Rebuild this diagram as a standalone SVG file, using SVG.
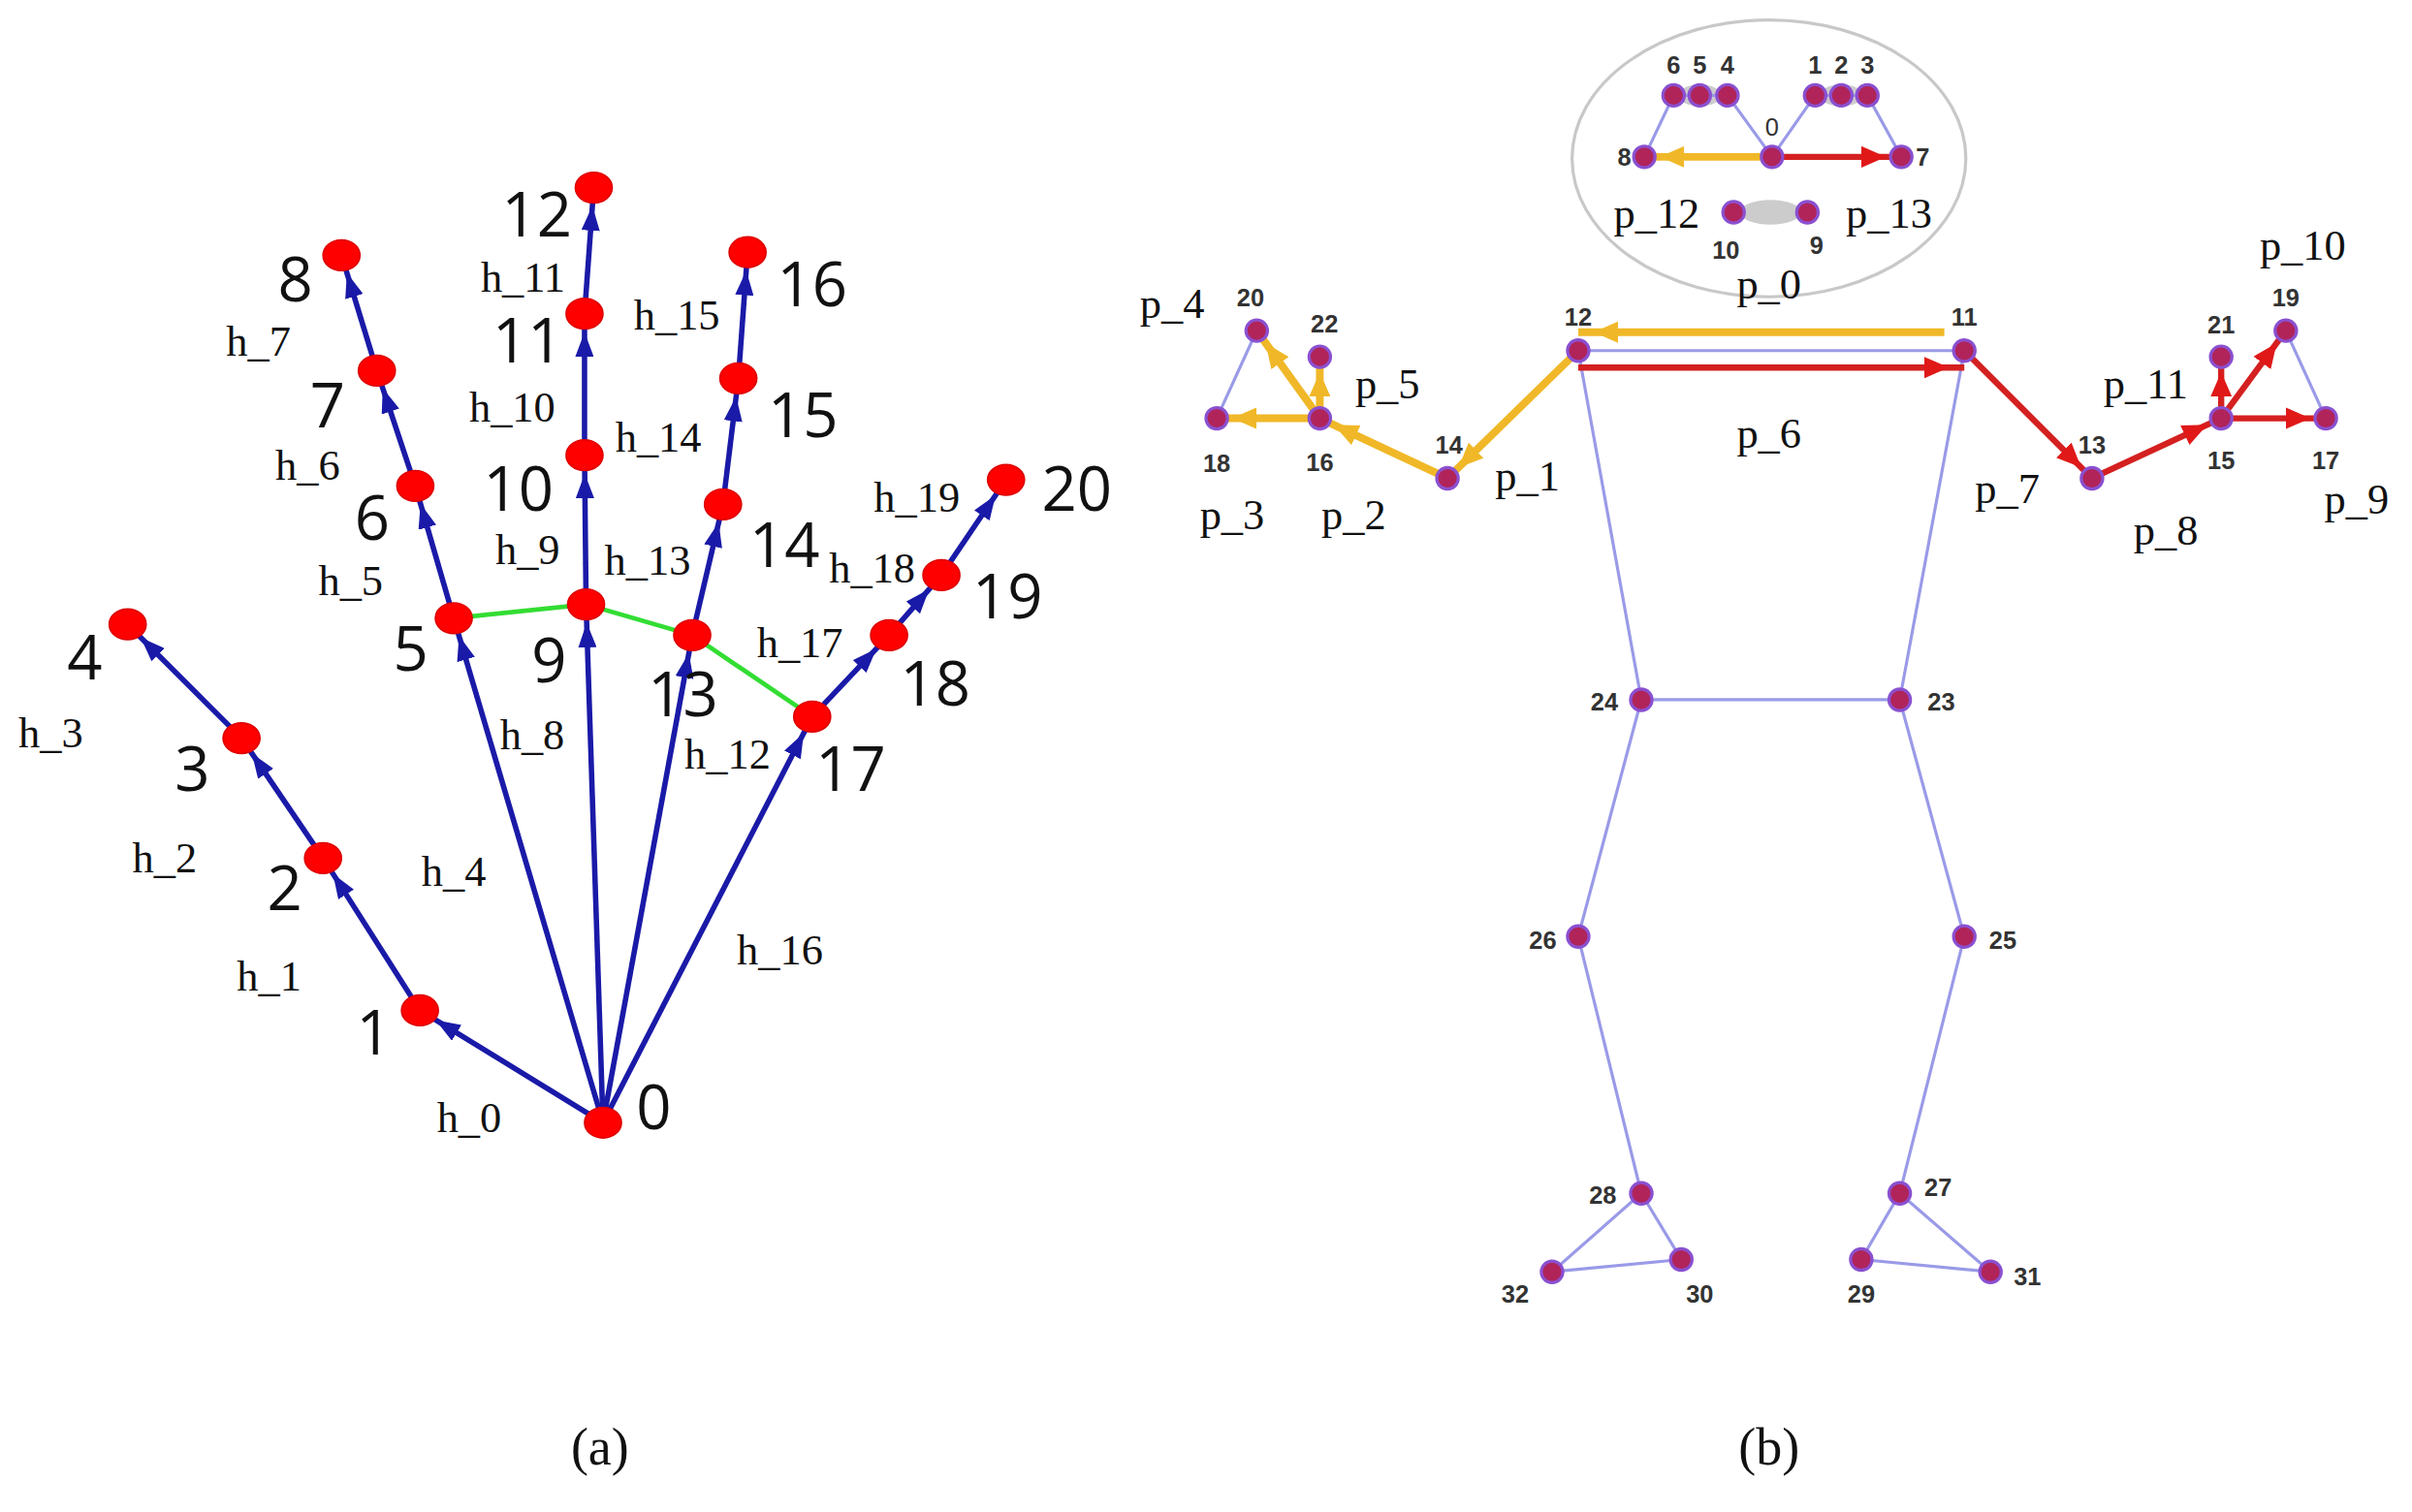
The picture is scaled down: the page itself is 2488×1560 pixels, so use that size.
<svg xmlns="http://www.w3.org/2000/svg" width="2488" height="1560" viewBox="0 0 2488 1560">
<style>
.hn{fill:#ff0000;stroke:#dd0000;stroke-width:1}
.ha{stroke:#1a1aa8;stroke-width:3.5;fill:none;marker-end:url(#mb)}
.hg{stroke:#33dd33;stroke-width:3;fill:none}
.nl{font-family:"Open Sans","Liberation Sans",sans-serif;font-size:40px;fill:#111}
.el{font-family:"Liberation Serif",serif;font-size:28px;fill:#111}
.bl{font-family:"Liberation Sans",sans-serif;font-size:16px;font-weight:bold;fill:#333}
.sk{stroke:#9a9ae8;stroke-width:2;fill:none}
.ya{stroke:#f0b828;stroke-width:5;fill:none;marker-end:url(#my)}
.ra{stroke:#d42020;stroke-width:4;fill:none;marker-end:url(#mr)}
.bn{fill:#b0245a;stroke:#8a50d0;stroke-width:2}
</style>
<defs>
<marker id="mb" markerUnits="userSpaceOnUse" viewBox="0 0 16 12" markerWidth="16" markerHeight="12" refX="28" refY="6" orient="auto"><path d="M0,0L16,6L0,12z" fill="#1a1aa8"/></marker>
<marker id="my" markerUnits="userSpaceOnUse" viewBox="0 0 16 14" markerWidth="16" markerHeight="14" refX="26" refY="7" orient="auto"><path d="M0,0L16,7L0,14z" fill="#f0b828"/></marker>
<marker id="mr" markerUnits="userSpaceOnUse" viewBox="0 0 16 14" markerWidth="16" markerHeight="14" refX="26" refY="7" orient="auto"><path d="M0,0L16,7L0,14z" fill="#e01818"/></marker>
</defs>
<rect width="2488" height="1560" fill="#fff"/>
<g transform="scale(1.5867)">
<g id="connectors">
<polyline class="hg" points="295,402 381,393 450,413 528,466"/>
<line class="ha" x1="392" y1="730" x2="273" y2="657"/>
<line class="ha" x1="273" y1="657" x2="210" y2="558"/>
<line class="ha" x1="210" y1="558" x2="157" y2="480"/>
<line class="ha" x1="157" y1="480" x2="83" y2="406"/>
<line class="ha" x1="392" y1="730" x2="295" y2="402"/>
<line class="ha" x1="295" y1="402" x2="270" y2="316"/>
<line class="ha" x1="270" y1="316" x2="245" y2="241"/>
<line class="ha" x1="245" y1="241" x2="222" y2="166"/>
<line class="ha" x1="392" y1="730" x2="381" y2="393"/>
<line class="ha" x1="381" y1="393" x2="380" y2="296"/>
<line class="ha" x1="380" y1="296" x2="380" y2="204"/>
<line class="ha" x1="380" y1="204" x2="386" y2="122"/>
<line class="ha" x1="392" y1="730" x2="450" y2="413"/>
<line class="ha" x1="450" y1="413" x2="470" y2="328"/>
<line class="ha" x1="470" y1="328" x2="480" y2="246"/>
<line class="ha" x1="480" y1="246" x2="486" y2="164"/>
<line class="ha" x1="392" y1="730" x2="528" y2="466"/>
<line class="ha" x1="528" y1="466" x2="578" y2="413"/>
<line class="ha" x1="578" y1="413" x2="612" y2="374"/>
<line class="ha" x1="612" y1="374" x2="654" y2="312"/>
<ellipse cx="1150" cy="103" rx="128" ry="90" fill="none" stroke="#c8c8c8" stroke-width="2"/>
<ellipse cx="1105" cy="62" rx="14" ry="7" fill="#ccc"/>
<ellipse cx="1197" cy="62" rx="14" ry="7" fill="#ccc"/>
<ellipse cx="1151" cy="138" rx="20" ry="8" fill="#ccc"/>
<polyline class="sk" points="1069,102 1088,62 1123,62 1152,102 1180,62 1214,62 1236,102"/>
<polyline class="sk" points="1026,228 1277,228"/>
<polyline class="sk" points="1026,228 1067,455 1235,455 1277,228"/>
<polyline class="sk" points="1067,455 1026,609 1067,776 1009,827 1093,819 1067,776"/>
<polyline class="sk" points="1235,455 1277,609 1235,776 1210,819 1294,827 1235,776"/>
<line class="sk" x1="791" y1="272" x2="817" y2="215"/>
<line class="sk" x1="1512" y1="272" x2="1486" y2="215"/>
<line class="ya" x1="1152" y1="102" x2="1069" y2="102"/>
<line class="ra" x1="1152" y1="102" x2="1236" y2="102"/>
<line class="ya" x1="1264" y1="216" x2="1026" y2="216"/>
<line class="ra" x1="1026" y1="239" x2="1277" y2="239"/>
<line class="ya" x1="1026" y1="228" x2="941" y2="311"/>
<line class="ya" x1="941" y1="311" x2="858" y2="272"/>
<line class="ya" x1="858" y1="272" x2="791" y2="272"/>
<line class="ya" x1="858" y1="272" x2="817" y2="215"/>
<line class="ya" x1="858" y1="272" x2="858" y2="232"/>
<line class="ra" x1="1277" y1="228" x2="1360" y2="311"/>
<line class="ra" x1="1360" y1="311" x2="1444" y2="272"/>
<line class="ra" x1="1444" y1="272" x2="1512" y2="272"/>
<line class="ra" x1="1444" y1="272" x2="1486" y2="215"/>
<line class="ra" x1="1444" y1="272" x2="1444" y2="232"/>
</g>
<g id="hand-nodes">
<ellipse class="hn" cx="392" cy="730" rx="12" ry="10"/><ellipse class="hn" cx="273" cy="657" rx="12" ry="10"/><ellipse class="hn" cx="210" cy="558" rx="12" ry="10"/><ellipse class="hn" cx="157" cy="480" rx="12" ry="10"/><ellipse class="hn" cx="83" cy="406" rx="12" ry="10"/><ellipse class="hn" cx="295" cy="402" rx="12" ry="10"/><ellipse class="hn" cx="270" cy="316" rx="12" ry="10"/><ellipse class="hn" cx="245" cy="241" rx="12" ry="10"/><ellipse class="hn" cx="222" cy="166" rx="12" ry="10"/><ellipse class="hn" cx="381" cy="393" rx="12" ry="10"/><ellipse class="hn" cx="380" cy="296" rx="12" ry="10"/><ellipse class="hn" cx="380" cy="204" rx="12" ry="10"/><ellipse class="hn" cx="386" cy="122" rx="12" ry="10"/><ellipse class="hn" cx="450" cy="413" rx="12" ry="10"/><ellipse class="hn" cx="470" cy="328" rx="12" ry="10"/><ellipse class="hn" cx="480" cy="246" rx="12" ry="10"/><ellipse class="hn" cx="486" cy="164" rx="12" ry="10"/><ellipse class="hn" cx="528" cy="466" rx="12" ry="10"/><ellipse class="hn" cx="578" cy="413" rx="12" ry="10"/><ellipse class="hn" cx="612" cy="374" rx="12" ry="10"/><ellipse class="hn" cx="654" cy="312" rx="12" ry="10"/>
</g>
<g id="hand-labels" class="nl" text-anchor="middle">
<text x="425" y="734">0</text><text x="243" y="686">1</text><text x="185" y="592">2</text><text x="125" y="514">3</text><text x="55" y="442">4</text><text x="267" y="436">5</text><text x="242" y="351">6</text><text x="213" y="278">7</text><text x="192" y="196">8</text><text x="357" y="444">9</text><text x="337" y="332">10</text><text x="343" y="236">11</text><text x="349" y="154">12</text><text x="444" y="466">13</text><text x="510" y="369">14</text><text x="522" y="284">15</text><text x="528" y="199">16</text><text x="553" y="514">17</text><text x="608" y="459">18</text><text x="655" y="402">19</text><text x="700" y="332">20</text>
</g>
<g id="hand-edge-labels" class="el" text-anchor="middle">
<text x="305" y="736">h_0</text><text x="175" y="644">h_1</text><text x="107" y="567">h_2</text><text x="33" y="486">h_3</text><text x="295" y="576">h_4</text><text x="228" y="387">h_5</text><text x="200" y="312">h_6</text><text x="168" y="231">h_7</text><text x="346" y="487">h_8</text><text x="343" y="367">h_9</text><text x="333" y="274">h_10</text><text x="340" y="190">h_11</text><text x="473" y="500">h_12</text><text x="421" y="374">h_13</text><text x="428" y="294">h_14</text><text x="440" y="214">h_15</text><text x="507" y="627">h_16</text><text x="520" y="427">h_17</text><text x="567" y="379">h_18</text><text x="596" y="333">h_19</text>
</g>
<g id="body-nodes">
<circle class="bn" cx="1026" cy="228" r="7"/><circle class="bn" cx="1277" cy="228" r="7"/><circle class="bn" cx="941" cy="311" r="7"/><circle class="bn" cx="858" cy="272" r="7"/><circle class="bn" cx="791" cy="272" r="7"/><circle class="bn" cx="817" cy="215" r="7"/><circle class="bn" cx="858" cy="232" r="7"/><circle class="bn" cx="1360" cy="311" r="7"/><circle class="bn" cx="1444" cy="272" r="7"/><circle class="bn" cx="1512" cy="272" r="7"/><circle class="bn" cx="1486" cy="215" r="7"/><circle class="bn" cx="1444" cy="232" r="7"/><circle class="bn" cx="1067" cy="455" r="7"/><circle class="bn" cx="1235" cy="455" r="7"/><circle class="bn" cx="1026" cy="609" r="7"/><circle class="bn" cx="1277" cy="609" r="7"/><circle class="bn" cx="1067" cy="776" r="7"/><circle class="bn" cx="1235" cy="776" r="7"/><circle class="bn" cx="1009" cy="827" r="7"/><circle class="bn" cx="1093" cy="819" r="7"/><circle class="bn" cx="1210" cy="819" r="7"/><circle class="bn" cx="1294" cy="827" r="7"/>
<circle class="bn" cx="1088" cy="62" r="7"/><circle class="bn" cx="1105" cy="62" r="7"/><circle class="bn" cx="1123" cy="62" r="7"/><circle class="bn" cx="1180" cy="62" r="7"/><circle class="bn" cx="1197" cy="62" r="7"/><circle class="bn" cx="1214" cy="62" r="7"/><circle class="bn" cx="1152" cy="102" r="7"/><circle class="bn" cx="1069" cy="102" r="7"/><circle class="bn" cx="1236" cy="102" r="7"/><circle class="bn" cx="1127" cy="138" r="7"/><circle class="bn" cx="1175" cy="138" r="7"/>
</g>
<g id="body-labels" class="bl" text-anchor="middle">
<text x="1026" y="212">12</text><text x="1277" y="212">11</text><text x="942" y="295">14</text><text x="858" y="306">16</text><text x="791" y="307">18</text><text x="813" y="199">20</text><text x="861" y="216">22</text><text x="1360" y="295">13</text><text x="1444" y="305">15</text><text x="1512" y="305">17</text><text x="1486" y="199">19</text><text x="1444" y="217">21</text><text x="1043" y="462">24</text><text x="1262" y="462">23</text><text x="1003" y="617">26</text><text x="1302" y="617">25</text><text x="1042" y="783">28</text><text x="1260" y="778">27</text><text x="985" y="847">32</text><text x="1105" y="847">30</text><text x="1210" y="847">29</text><text x="1318" y="836">31</text>
<text x="1088" y="48">6</text><text x="1105" y="48">5</text><text x="1123" y="48">4</text><text x="1180" y="48">1</text><text x="1197" y="48">2</text><text x="1214" y="48">3</text><text x="1152" y="88" font-weight="normal">0</text><text x="1056" y="108">8</text><text x="1250" y="108">7</text><text x="1122" y="168">10</text><text x="1181" y="165">9</text>
</g>
<g id="body-edge-labels" class="el" text-anchor="middle">
<text x="762" y="207">p_4</text><text x="902" y="259">p_5</text><text x="801" y="344">p_3</text><text x="880" y="344">p_2</text><text x="993" y="319">p_1</text><text x="1150" y="291">p_6</text><text x="1305" y="327">p_7</text><text x="1408" y="354">p_8</text><text x="1532" y="334">p_9</text><text x="1497" y="169">p_10</text><text x="1395" y="259">p_11</text><text x="1077" y="148">p_12</text><text x="1228" y="148">p_13</text><text x="1150" y="194">p_0</text>
</g>
<g id="captions" font-family="Liberation Serif,serif" font-size="34" text-anchor="middle" fill="#111">
<text x="390" y="952">(a)</text><text x="1150" y="952">(b)</text>
</g>
</g>
</svg>
